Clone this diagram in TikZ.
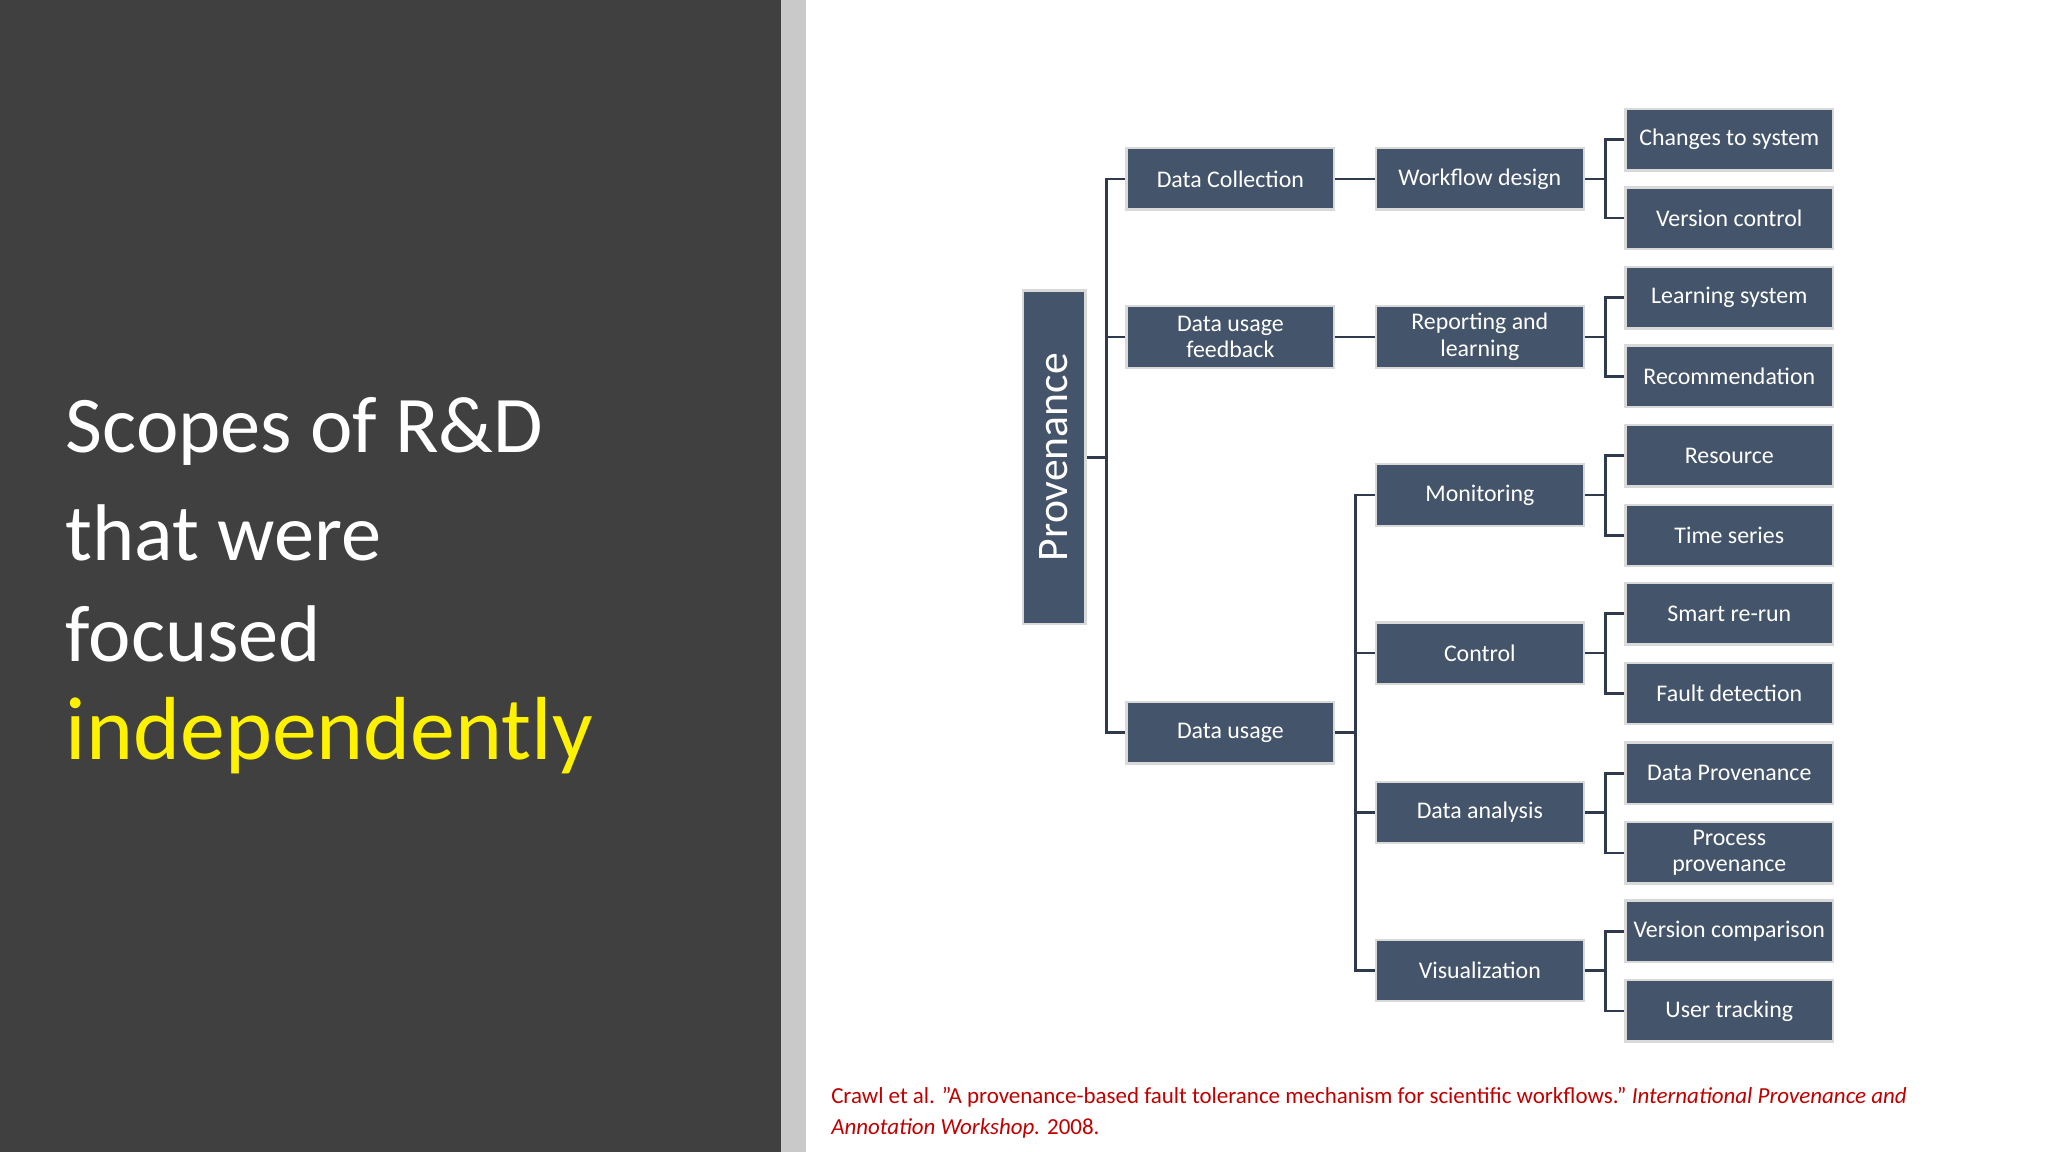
\documentclass[tikz,border=0pt]{standalone}
\usepackage{fontspec}
\setmainfont{Carlito}
\begin{document}
\begin{tikzpicture}[x=0.01cm,y=-0.01cm,
  box/.style={draw=white!85!black,line width=0.5pt,fill=boxc,text=white,inner sep=0pt,
    minimum width=159*0.01cm,minimum height=47*0.01cm,align=center,font=\fontsize{5.2}{5.8}\selectfont},
  conn/.style={draw=linec,line width=0.6pt}]
\definecolor{boxc}{HTML}{44546A}
\definecolor{linec}{HTML}{2F3B4C}
\definecolor{darkbg}{HTML}{404040}
\definecolor{stripc}{HTML}{C9C9C9}
\definecolor{citec}{HTML}{C00000}
\useasboundingbox (0,0) rectangle (1568,882);
\fill[white] (0,0) rectangle (1568,882);
\fill[darkbg] (0,0) rectangle (598,882);
\fill[stripc] (598,0) rectangle (617,882);
\node[anchor=west,text=white,align=left,font=\fontsize{17.5}{22}\selectfont] (t1) at (38,330) {Scopes of R\&D};
\node[anchor=west,text=white,font=\fontsize{17.5}{22}\selectfont] (t2) at (38,408) {that were};
\node[anchor=west,text=white,font=\fontsize{17.5}{22}\selectfont] (t3) at (38,485) {focused};
\node[anchor=west,text=yellow,font=\fontsize{19.5}{22}\selectfont] (t4) at (38,563) {independently};
% root
\node[box,minimum width=48*0.01cm,minimum height=255*0.01cm] (prov) at (807,350) {};
\node[rotate=90,text=white,font=\fontsize{9.5}{10}\selectfont] (provt) at (807,350) {Provenance};
% level1
\node[box] (dc) at (942,137) {Data Collection};
\node[box] (duf) at (942,258) {Data usage\\feedback};
\node[box] (du) at (942,561) {Data usage};
% level2
\node[box] (wd) at (1133,137) {Workflow design};
\node[box] (rl) at (1133,258) {Reporting and\\learning};
\node[box] (mo) at (1133,379) {Monitoring};
\node[box] (co) at (1133,500) {Control};
\node[box] (da) at (1133,622) {Data analysis};
\node[box] (vi) at (1133,743) {Visualization};
% level3
\foreach \n/\y/\t in {a/107/Changes to system,b/167/Version control,c/228/Learning system,d/288/Recommendation,e/349/Resource,f/410/Time series,g/470/Smart re-run,h/531/Fault detection,i/592/Data Provenance,j/653/Process\\provenance,k/713/Version comparison,l/774/User tracking}
  \node[box] (\n) at (1324,\y) {\t};
% connectors
\coordinate (b0) at (847,350);
\draw[conn] (prov.east) -- (b0);
\foreach \c in {dc,duf,du} \draw[conn] (b0) |- (\c.west);
\draw[conn] (dc) -- (wd);
\draw[conn] (duf) -- (rl);
\coordinate (b1) at (1038,561);
\draw[conn] (du.east) -- (b1);
\foreach \c in {mo,co,da,vi} \draw[conn] (b1) |- (\c.west);
\foreach \p/\u/\v in {wd/a/b,rl/c/d,mo/e/f,co/g/h,da/i/j,vi/k/l}{
  \coordinate (m\p) at ([xshift=16*0.01cm]\p.east);
  \draw[conn] (\p.east) -- (m\p);
  \draw[conn] (m\p) |- (\u.west);
  \draw[conn] (m\p) |- (\v.west);
}
\node[anchor=west,text=citec,align=left,font=\fontsize{5}{6.6}\selectfont] (cite) at (624,852)
 {Crawl et al. "A provenance-based fault tolerance mechanism for scientific workflows." \textit{International Provenance and}\\\textit{Annotation Workshop.} 2008.};
\end{tikzpicture}
\end{document}
